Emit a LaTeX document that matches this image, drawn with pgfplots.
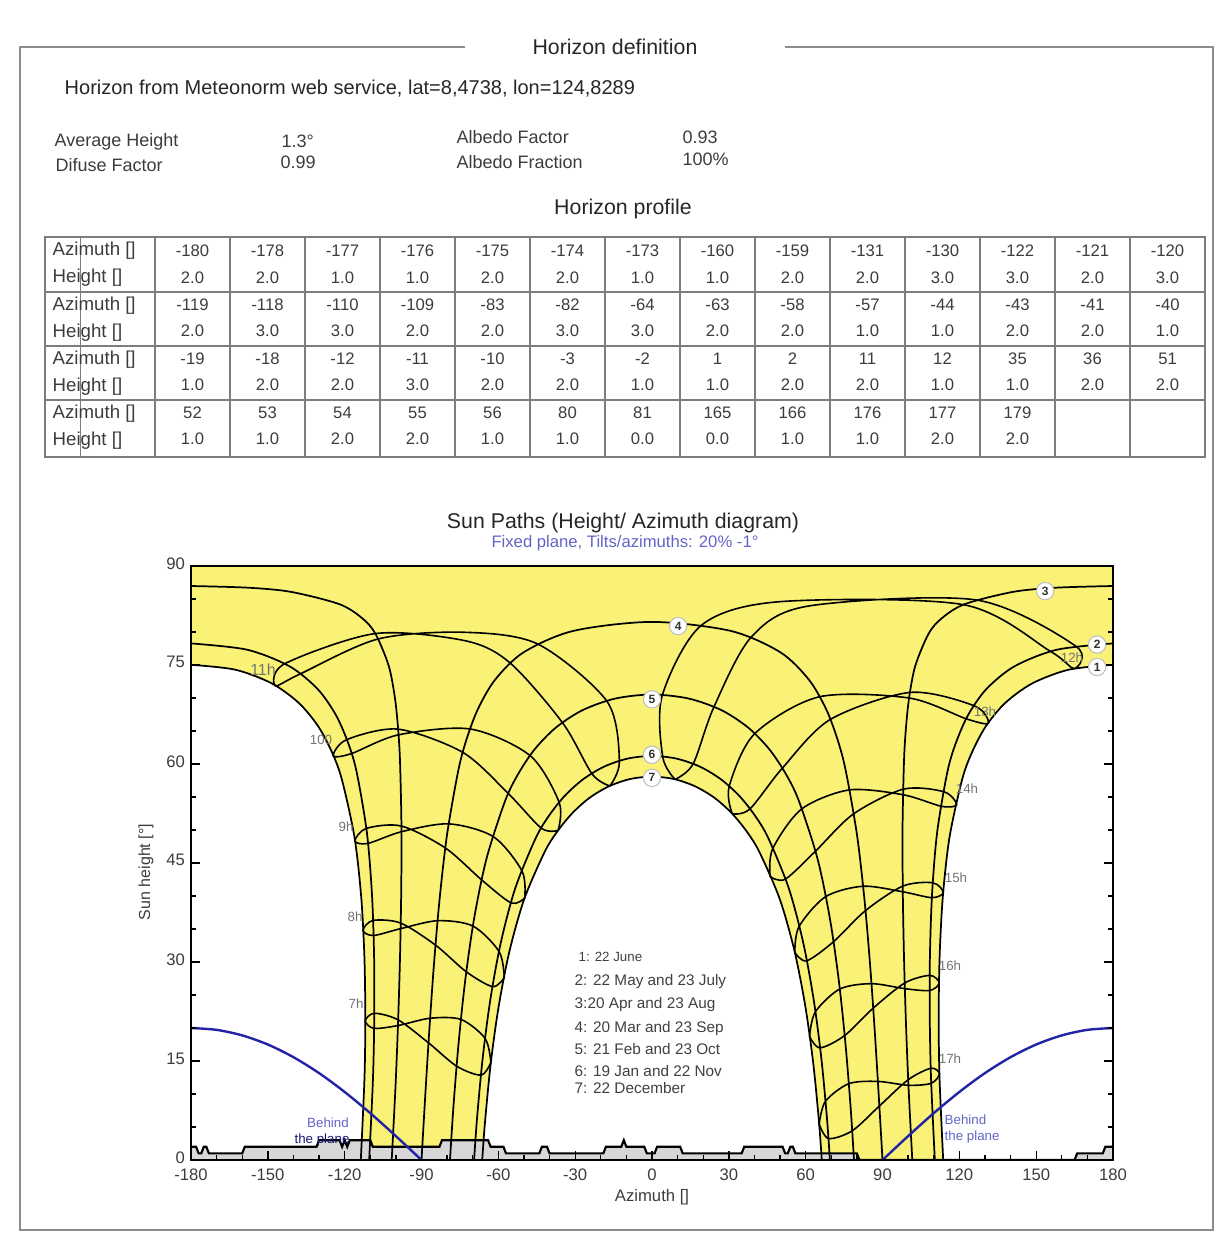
\documentclass[border=0pt]{standalone}
\usepackage{pgfplots}
\pgfplotsset{compat=1.18}
\usepackage{fontspec}
\setmainfont{Liberation Sans}
\definecolor{sunyellow}{RGB}{250,242,118}
\definecolor{framegray}{RGB}{140,140,140}
\definecolor{tablegray}{RGB}{125,125,125}
\definecolor{txt}{RGB}{60,60,60}
\definecolor{planeblue}{RGB}{35,35,165}
\definecolor{lightblue}{RGB}{100,100,200}
\definecolor{hgray}{RGB}{215,215,215}
\newcommand\fs[1]{\fontsize{#1pt}{#1pt}\selectfont}

\begin{document}
\begin{tikzpicture}[x=0.75pt,y=-0.75pt]
\path (0,0) rectangle (1231,1244);
% frame
\draw[framegray, line width=1.5pt] (465,47) -- (20,47) -- (20,1230) -- (1213,1230) -- (1213,47) -- (785,47);
\node[font=\fs{16}, text=black!85] at (615,47) {Horizon definition};
\node[anchor=west, font=\fs{15}, text=black!85] at (60,89) {Horizon from Meteonorm web service, lat=8,4738, lon=124,8289};
\begin{scope}[every node/.style={anchor=west, font=\fs{13.5}, text=txt}]
\node at (50,142) {Average Height};
\node at (277,141) {1.3°};
\node at (452,137) {Albedo Factor};
\node at (678,137) {0.93};
\node at (51,165) {Difuse Factor};
\node at (276,162) {0.99};
\node at (452,162) {Albedo Fraction};
\node at (678,159) {100\%};
\end{scope}
\node[font=\fs{16}, text=black!85] at (623,209) {Horizon profile};

% horizon profile table
\draw[tablegray, line width=1.3pt] (45,237) rectangle (1205,457);
\foreach \y in {292,346,400} \draw[tablegray, line width=1.3pt] (45,\y) -- (1205,\y);
\foreach \x in {155,230,...,1130} \draw[tablegray, line width=1.3pt] (\x,237) -- (\x,457);
\draw[tablegray, line width=0.6pt] (80,237) -- (80,457);
\foreach \y in {237,292,346,400} {
  \node[anchor=west, font=\fs{14}, text=txt] at (48,\y+14) {Azimuth []};
  \node[anchor=west, font=\fs{14}, text=txt] at (48,\y+41) {Height []};
}
\begin{scope}[every node/.style={font=\fs{12.5}, text=txt}]
\foreach \v [count=\i] in {-180,-178,-177,-176,-175,-174,-173,-160,-159,-131,-130,-122,-121,-120}
  \node at (117.5+75*\i,251) {\v};
\foreach \v [count=\i] in {2.0,2.0,1.0,1.0,2.0,2.0,1.0,1.0,2.0,2.0,3.0,3.0,2.0,3.0}
  \node at (117.5+75*\i,278) {\v};
\foreach \v [count=\i] in {-119,-118,-110,-109,-83,-82,-64,-63,-58,-57,-44,-43,-41,-40}
  \node at (117.5+75*\i,305) {\v};
\foreach \v [count=\i] in {2.0,3.0,3.0,2.0,2.0,3.0,3.0,2.0,2.0,1.0,1.0,2.0,2.0,1.0}
  \node at (117.5+75*\i,331) {\v};
\foreach \v [count=\i] in {-19,-18,-12,-11,-10,-3,-2,1,2,11,12,35,36,51}
  \node at (117.5+75*\i,359) {\v};
\foreach \v [count=\i] in {1.0,2.0,2.0,3.0,2.0,2.0,1.0,1.0,2.0,2.0,1.0,1.0,2.0,2.0}
  \node at (117.5+75*\i,385) {\v};
\foreach \v [count=\i] in {52,53,54,55,56,80,81,165,166,176,177,179}
  \node at (117.5+75*\i,413) {\v};
\foreach \v [count=\i] in {1.0,1.0,2.0,2.0,1.0,1.0,0.0,0.0,1.0,1.0,2.0,2.0}
  \node at (117.5+75*\i,439) {\v};
\end{scope}

\node[font=\fs{16}, text=black!85] at (623,523) {Sun Paths (Height/ Azimuth diagram)};
\node[font=\fs{12.5}, text=lightblue] at (625,543) {Fixed plane, Tilts/azimuths: 20\% -1°};

\begin{axis}[
  at={(143.25pt,-870pt)}, anchor=south west,
  scale only axis, width=691.5pt, height=445.5pt,
  xmin=-180, xmax=180, ymin=0, ymax=90,
  axis on top,
  axis line style={line width=1.5pt, black},
  xtick={-180,-150,...,180},
  xticklabels={-180,-150,-120,-90,-60,-30,0,30,60,90,120,150,180},
  ytick={0,15,...,90},
  yticklabels={0,15,30,45,60,75,90},
  minor xtick={-170,-160,...,170},
  minor ytick={5,10,...,85},
  xtick pos=bottom,
  tick style={black, line width=1pt},
  major tick length=7pt, minor tick length=4pt,
  tick label style={font=\fs{12.5}, text=txt},
  xticklabel style={yshift=-3pt},
  yticklabel style={xshift=-1pt, yshift=2pt},
]
% sky region above the horizon-free zone
\addplot[fill=sunyellow, draw=none] coordinates {
 (-113.7,0) (-112.26,12.49) (-111.94,21.65) (-112.30,30.82) (-113.56,39.94) (-116.17,48.92)
 (-121.07,57.62) (-124.94,61.77) (-130.33,65.71) (-137.90,69.25) (-148.53,72.23) (-162.83,74.30)
 (-180,75.03) (-180,90) (180,90) (180,75.03)
 (162.83,74.30) (148.53,72.23) (137.90,69.25) (130.33,65.71) (124.94,61.77) (121.07,57.62)
 (116.17,48.92) (113.56,39.94) (112.30,30.82) (111.94,21.65) (112.26,12.49) (113.7,0)
 (66.29,0) (65.22,5.68) (62.98,14.58) (59.87,23.27) (55.65,31.65) (49.88,39.54) (41.94,46.66)
 (36.92,49.81) (31.08,52.57) (24.38,54.88) (16.83,56.62) (8.61,57.72) (0,58.09)
 (-8.61,57.72) (-16.83,56.62) (-24.38,54.88) (-31.08,52.57) (-36.92,49.81) (-41.94,46.66)
 (-49.88,39.54) (-55.65,31.65) (-59.87,23.27) (-62.98,14.58) (-65.22,5.68) (-66.29,0)};

% horizon profile (fill)
\addplot[fill=hgray, draw=none] coordinates {
 (-180,2) (-178,2) (-177,1) (-176,1) (-175,2) (-174,2) (-173,1) (-160,1) (-159,2) (-131,2)
 (-130,3) (-122,3) (-121,2) (-120,3) (-119,2) (-118,3) (-110,3) (-109,2) (-83,2) (-82,3)
 (-64,3) (-63,2) (-58,2) (-57,1) (-44,1) (-43,2) (-41,2) (-40,1) (-19,1) (-18,2) (-12,2)
 (-11,3) (-10,2) (-3,2) (-2,1) (1,1) (2,2) (11,2) (12,1) (35,1) (36,2) (51,2) (52,1) (53,1)
 (54,2) (55,2) (56,1) (80,1) (81,0) (165,0) (166,1) (176,1) (177,2) (179,2) (180,2)} \closedcycle;

% date curves
\addplot[black, line width=1.3pt, smooth] coordinates {
 (-113.7,0) (-112.26,12.49) (-111.94,21.65) (-112.30,30.82) (-113.56,39.94) (-116.17,48.92)
 (-121.07,57.62) (-124.94,61.77) (-130.33,65.71) (-137.90,69.25) (-148.53,72.23) (-162.83,74.30) (-180,75.03)};
\addplot[black, line width=1.3pt, smooth] coordinates {
 (180,75.03) (162.83,74.30) (148.53,72.23) (137.90,69.25) (130.33,65.71) (124.94,61.77)
 (121.07,57.62) (116.17,48.92) (113.56,39.94) (112.30,30.82) (111.94,21.65) (112.26,12.49) (113.7,0)};
\addplot[black, line width=1.3pt, smooth] coordinates {
 (-110.43,0) (-108.96,12.24) (-108.45,21.61) (-108.52,31.0) (-109.36,40.36) (-111.33,49.64)
 (-115.29,58.73) (-118.59,63.13) (-123.39,67.40) (-130.56,71.36) (-141.56,74.81) (-158.12,77.32) (-180,78.27)};
\addplot[black, line width=1.3pt, smooth] coordinates {
 (180,78.27) (158.12,77.32) (141.56,74.81) (130.56,71.36) (123.39,67.40) (118.59,63.13)
 (115.29,58.73) (111.33,49.64) (109.36,40.36) (108.52,31.0) (108.45,21.61) (108.96,12.24) (110.43,0)};
\addplot[black, line width=1.3pt, smooth] coordinates {
 (-101.63,0) (-100.12,11.40) (-99.12,21.15) (-98.38,30.93) (-97.92,40.72) (-97.83,50.52)
 (-98.38,60.31) (-99.10,65.20) (-100.40,70.08) (-102.83,74.91) (-107.92,79.69) (-112.91,82.01)
 (-122.0,84.21) (-141.1,86.09) (-158.0,86.72) (-180,86.97)};
\addplot[black, line width=1.3pt, smooth] coordinates {
 (180,86.97) (158.0,86.72) (141.1,86.09) (122.0,84.21) (112.91,82.01) (107.92,79.69)
 (102.83,74.91) (100.40,70.08) (99.10,65.20) (98.38,60.31) (97.83,50.52) (97.92,40.72)
 (98.38,30.93) (99.12,21.15) (100.12,11.40) (101.63,0)};
\addplot[black, line width=1.3pt, smooth] coordinates {
 (-90,0) (-88.51,9.89) (-86.93,19.77) (-85.14,29.64) (-82.95,39.48) (-80.04,49.26) (-75.68,58.93)
 (-72.46,63.69) (-67.96,68.34) (-61.19,72.81) (-50.11,76.93) (-30.70,80.17) (0,81.53)
 (30.70,80.17) (50.11,76.93) (61.19,72.81) (67.96,68.34) (72.46,63.69) (75.68,58.93)
 (80.04,49.26) (82.95,39.48) (85.14,29.64) (86.93,19.77) (88.51,9.89) (90,0)};
\addplot[black, line width=1.3pt, smooth] coordinates {
 (-78.88,0) (-77.53,8.08) (-75.52,17.69) (-72.93,27.21) (-69.46,36.58) (-64.60,45.69) (-57.39,54.37)
 (-52.37,58.41) (-45.96,62.16) (-37.72,65.46) (-27.23,68.14) (-14.42,69.91) (0,70.53)
 (14.42,69.91) (27.23,68.14) (37.72,65.46) (45.96,62.16) (52.37,58.41) (57.39,54.37)
 (64.60,45.69) (69.46,36.58) (72.93,27.21) (75.52,17.69) (77.53,8.08) (78.88,0)};
\addplot[black, line width=1.3pt, smooth] coordinates {
 (-69.46,0) (-68.32,6.31) (-66.11,15.44) (-63.09,24.38) (-58.98,33.04) (-53.33,41.26) (-45.38,48.79)
 (-40.24,52.16) (-34.14,55.15) (-26.99,57.66) (-18.77,59.59) (-9.65,60.81) (0,61.23)
 (9.65,60.81) (18.77,59.59) (26.99,57.66) (34.14,55.15) (40.24,52.16) (45.38,48.79)
 (53.33,41.26) (58.98,33.04) (63.09,24.38) (66.11,15.44) (68.32,6.31) (69.46,0)};
\addplot[black, line width=1.3pt, smooth] coordinates {
 (-66.29,0) (-65.22,5.68) (-62.98,14.58) (-59.87,23.27) (-55.65,31.65) (-49.88,39.54) (-41.94,46.66)
 (-36.92,49.81) (-31.08,52.57) (-24.38,54.88) (-16.83,56.62) (-8.61,57.72) (0,58.09)
 (8.61,57.72) (16.83,56.62) (24.38,54.88) (31.08,52.57) (36.92,49.81) (41.94,46.66)
 (49.88,39.54) (55.65,31.65) (59.87,23.27) (62.98,14.58) (65.22,5.68) (66.29,0)};

% hour lines (analemmas)
\addplot[black, line width=1.2pt, smooth] coordinates {
 (-62.91,14.78) (-66.73,12.87) (-76.25,14.21) (-87.25,17.75) (-99.11,21.23) (-108.45,22.23) (-111.96,21.06)
 (-108.54,19.95) (-99.20,20.37) (-86.62,21.48) (-74.54,21.29) (-65.11,18.39) (-62.91,14.78)};
\addplot[black, line width=1.2pt, smooth] coordinates {
 (-57.66,27.65) (-62.19,26.27) (-72.45,28.50) (-84.49,32.55) (-98.15,35.90) (-109.0,36.29) (-112.85,34.79)
 (-108.79,34.02) (-98.19,35.05) (-83.67,36.26) (-69.88,35.44) (-59.68,31.57) (-57.66,27.65)};
\addplot[black, line width=1.2pt, smooth] coordinates {
 (-49.70,39.70) (-54.92,38.94) (-66.36,42.39) (-80.63,47.26) (-97.83,50.60) (-111.59,50.24) (-116.0,48.34)
 (-110.98,47.96) (-97.84,49.74) (-79.29,50.93) (-61.87,48.97) (-50.70,43.75) (-49.70,39.70)};
\addplot[black, line width=1.2pt, smooth] coordinates {
 (-36.65,49.94) (-43.14,50.26) (-56.0,55.48) (-73.78,61.74) (-99.12,65.28) (-119.22,63.69) (-124.44,61.23)
 (-117.42,61.57) (-98.99,64.42) (-70.90,65.30) (-47.52,61.25) (-36.21,54.14) (-36.65,49.94)};
\addplot[black, line width=1.2pt, smooth] coordinates {
 (-16.45,56.67) (-23.41,58.50) (-34.83,66.20) (-55.37,75.30) (-72.85,78.67) (-108.08,79.76) (-143.38,75.2)
 (-147.16,71.85) (-137.67,73.59) (-107.11,78.93) (-73.4,79.96) (-44.6,78.18) (-17.55,69.48) (-12.74,60.40) (-16.45,56.67)};
\addplot[black, line width=1.2pt, smooth] coordinates {
 (8.99,57.67) (4.21,61.05) (3.98,70.36) (19.30,81.03) (50,84.6) (121.6,84.14) (155.6,77.06)
 (164.92,74.45) (165.43,77.87) (126.52,84.86) (61,83.93) (38.69,79.20) (24.10,68.57) (16.03,60.00) (8.99,57.67)};
\addplot[black, line width=1.2pt, smooth] coordinates {
 (31.35,52.44) (30.11,56.57) (39.99,64.55) (65.19,70.17) (100.38,70.0) (122.76,66.84) (131.31,66.17)
 (125.93,68.80) (100.79,70.85) (69.52,66.73) (50.81,59.33) (38.17,53.17) (31.35,52.44)};
\addplot[black, line width=1.2pt, smooth] coordinates {
 (46.09,42.94) (47.11,47.15) (58.38,53.17) (76.97,56.07) (98.10,55.34) (113.05,53.59) (118.94,53.83)
 (114.01,55.79) (98.15,56.19) (78.61,52.42) (63.72,46.75) (51.98,42.54) (46.09,42.94)};
\addplot[black, line width=1.2pt, smooth] coordinates {
 (55.75,31.46) (57.39,35.36) (67.70,39.88) (82.35,41.48) (97.92,40.64) (109.30,39.75) (113.73,40.52)
 (109.71,42.0) (97.91,41.50) (83.33,37.78) (70.77,33.04) (60.34,30.18) (55.75,31.46)};
\addplot[black, line width=1.2pt, smooth] coordinates {
 (61.50,18.72) (63.75,22.43) (73.29,25.90) (85.67,26.72) (98.76,25.96) (108.48,25.69) (112.14,26.83)
 (108.50,27.97) (98.69,26.82) (86.34,23.0) (75.20,18.85) (65.60,17.0) (61.50,18.72)};
\addplot[black, line width=1.2pt, smooth] coordinates {
 (65.26,5.47) (67.70,8.88) (76.80,11.56) (88.19,11.91) (100.13,11.32) (109.03,11.63) (112.24,13.08)
 (108.87,13.90) (100.04,12.17) (88.77,8.18) (78.14,4.42) (68.87,3.26) (65.26,5.47)};

% horizon profile (outline)
\addplot[black, line width=1.6pt] coordinates {
 (-180,2) (-178,2) (-177,1) (-176,1) (-175,2) (-174,2) (-173,1) (-160,1) (-159,2) (-131,2)
 (-130,3) (-122,3) (-121,2) (-120,3) (-119,2) (-118,3) (-110,3) (-109,2) (-83,2) (-82,3)
 (-64,3) (-63,2) (-58,2) (-57,1) (-44,1) (-43,2) (-41,2) (-40,1) (-19,1) (-18,2) (-12,2)
 (-11,3) (-10,2) (-3,2) (-2,1) (1,1) (2,2) (11,2) (12,1) (35,1) (36,2) (51,2) (52,1) (53,1)
 (54,2) (55,2) (56,1) (80,1) (81,0) (165,0) (166,1) (176,1) (177,2) (179,2) (180,2)};

% behind the plane limit
\addplot[planeblue, line width=1.8pt, smooth] coordinates {
 (-180,20.0) (-170,19.72) (-160,18.88) (-150,17.50) (-140,15.58) (-130,13.17) (-120,10.31)
 (-110,7.10) (-100,3.62) (-90,0)};
\addplot[planeblue, line width=1.8pt, smooth] coordinates {
 (90,0) (100,3.62) (110,7.10) (120,10.31) (130,13.17) (140,15.58) (150,17.50) (160,18.88)
 (170,19.72) (180,20.0)};

% date markers
\addplot[only marks, mark=*, mark size=6.5pt, mark options={fill=white, draw=gray!50, line width=0.8pt},
  point meta=explicit symbolic, nodes near coords,
  nodes near coords style={anchor=center, font=\bfseries\fs{9}, text=black!80}] coordinates {
 (173.8,74.7)[1] (173.8,78.1)[2] (153.5,86.2)[3] (10.2,80.9)[4] (0,69.8)[5] (0,61.4)[6] (0,57.9)[7]};
\end{axis}

% axis titles
\node[rotate=90, font=\fs{12}, text=txt] at (146,872) {Sun height [°]};
\node[font=\fs{12.5}, text=txt] at (652,1197) {Azimuth []};

% hour labels
\begin{scope}[every node/.style={font=\fs{10}, text=black!55}]
\node[font=\fs{12}] at (263,670) {11h};
\node at (321,740) {100};
\node at (346,827) {9h};
\node at (355,917) {8h};
\node at (356,1004) {7h};
\node at (1072,658) {12h};
\node at (985,712) {13h};
\node at (967,789) {14h};
\node at (956,878) {15h};
\node at (950,966) {16h};
\node at (950,1059) {17h};
\end{scope}

% date legend
\begin{scope}[every node/.style={anchor=west, font=\fs{11.5}, text=black!75}]
\node[font=\fs{10}] at (574,957) {1: 22 June};
\node at (570,982) {2: 22 May and 23 July};
\node at (570,1005) {3:20 Apr and 23 Aug};
\node at (570,1029) {4: 20 Mar and 23 Sep};
\node at (570,1049) {5: 21 Feb and 23 Oct};
\node at (570,1071) {6: 19 Jan and 22 Nov};
\node at (570,1088) {7: 22 December};
\end{scope}

% behind the plane
\node[font=\fs{10}, text=lightblue] at (328,1123) {Behind};
\node[font=\fs{10}, text=planeblue!70!black] at (322,1140) {the plane};
\node[anchor=west, font=\fs{10}, text=lightblue] at (940,1120) {Behind};
\node[anchor=west, font=\fs{10}, text=lightblue] at (940,1137) {the plane};
\end{tikzpicture}
\end{document}
